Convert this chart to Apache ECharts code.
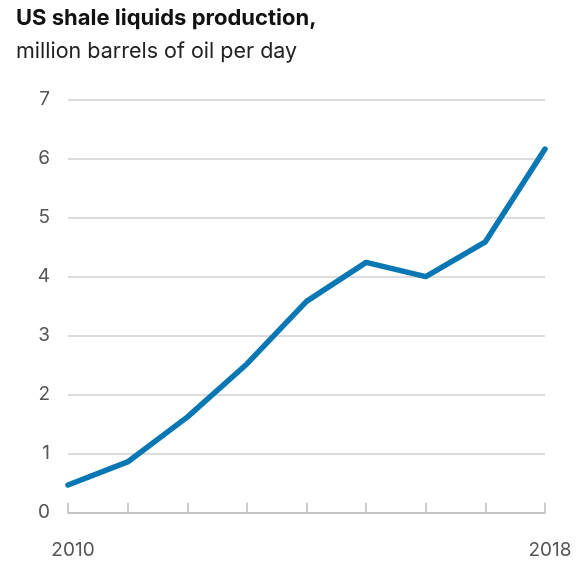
<!DOCTYPE html>
<html><head><meta charset="utf-8">
<script src="https://cdn.jsdelivr.net/npm/echarts@6/dist/echarts.min.js"></script>
<style>html,body{margin:0;padding:0;background:#fff}#c{width:582px;height:566px}</style>
</head><body><div id="c"></div>
<script>
const titleText = 'US shale liquids production,';
const subtitleText = 'million barrels of oil per day';
const years = ['2010','2011','2012','2013','2014','2015','2016','2017','2018'];
const production = [0.47, 0.86, 1.62, 2.52, 3.58, 4.24, 4.0, 4.59, 6.16];
const yTicks = [0,1,2,3,4,5,6,7];
const FONT = 'Inter, "Liberation Sans", Arial, sans-serif';
const chart = echarts.init(document.getElementById('c'), null, {renderer:'canvas'});
chart.setOption({
  animation:false,
  title:[
    {text:titleText, left:11, top:2, textStyle:{fontFamily:FONT, fontSize:22, fontWeight:'bold', color:'#111'}},
    {text:subtitleText, left:11, top:36, textStyle:{fontFamily:FONT, fontSize:21.5, fontWeight:'normal', color:'#222'}}
  ],
  grid:{left:68, right:37, top:99.5, bottom:53.3},
  xAxis:{
    type:'category', data:years, boundaryGap:false,
    axisLine:{show:true, lineStyle:{color:'#bdbdbd', width:1.5}},
    axisTick:{show:true, inside:true, length:10, lineStyle:{color:'#bdbdbd', width:1.5}},
    axisLabel:{
      interval:0, margin:28, fontFamily:FONT, fontSize:19, color:'#555', padding:[0,0,0,10],
      formatter:(v,i)=> (i===0 || i===years.length-1) ? v : ''
    },
    splitLine:{show:false}
  },
  yAxis:{
    type:'value', min:yTicks[0], max:yTicks[yTicks.length-1], interval:1,
    axisLine:{show:false}, axisTick:{show:false},
    axisLabel:{margin:18, fontFamily:FONT, fontSize:19, color:'#555'},
    splitLine:{lineStyle:{color:'#d0d0d0', width:1.5}}
  },
  series:[{
    type:'line', data:production, symbol:'none',
    lineStyle:{color:'#0877b3', width:5.5, cap:'round', join:'round'}
  }]
});
</script></body></html>
